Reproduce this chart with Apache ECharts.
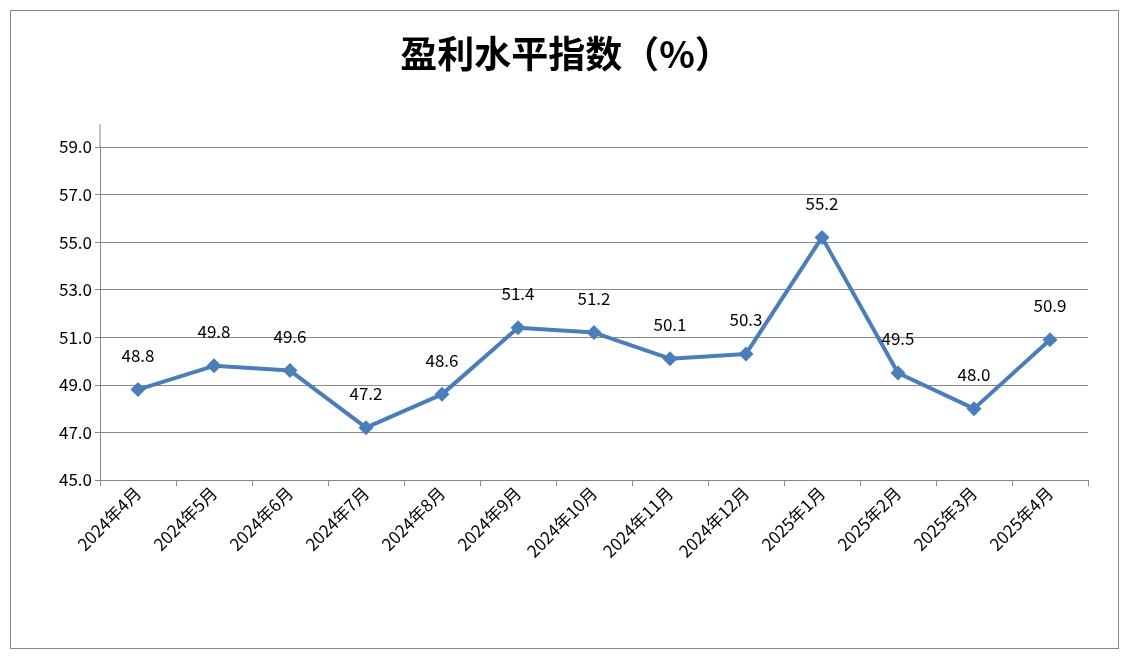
<!DOCTYPE html>
<html><head><meta charset="utf-8">
<script src="https://cdn.jsdelivr.net/npm/echarts@6/dist/echarts.min.js"></script>
<style>body{margin:0;background:#fff}#main{width:1132px;height:661px}
#frame{position:absolute;left:10px;top:10px;width:1107px;height:637px;border:1px solid #888;pointer-events:none}</style>
</head><body><div id="main"></div><div id="frame"></div>
<script>
// months shown on the x axis
const months = ["2024年4月","2024年5月","2024年6月","2024年7月","2024年8月","2024年9月","2024年10月",
  "2024年11月","2024年12月","2025年1月","2025年2月","2025年3月","2025年4月"];
// profit level index values
const profitIndex = [48.8, 49.8, 49.6, 47.2, 48.6, 51.4, 51.2, 50.1, 50.3, 55.2, 49.5, 48.0, 50.9];

const chart = echarts.init(document.getElementById("main"));
const font = "'Noto Sans CJK SC', sans-serif";
chart.setOption({
  animation: false,
  title: {
    text: "盈利水平指数（%）", left: "center", top: 30,
    textStyle: { fontSize: 37, fontWeight: "bold", color: "#000", fontFamily: font }
  },
  graphic: [{ type: "line", shape: { x1: 100, y1: 124, x2: 100, y2: 147 }, style: { stroke: "#888", lineWidth: 1 } }],
  grid: { left: 100, right: 44, top: 147, bottom: 181 },
  xAxis: {
    type: "category", data: months, boundaryGap: true,
    axisLine: { lineStyle: { color: "#888" } },
    axisTick: { show: true, length: 6, lineStyle: { color: "#888" } },
    axisLabel: { rotate: 45, color: "#000", fontSize: 17, fontFamily: font, interval: 0, margin: 10 }
  },
  yAxis: {
    type: "value", min: 45, max: 59, interval: 2,
    axisLine: { show: true, lineStyle: { color: "#888" } },
    axisTick: { show: true, length: 5, lineStyle: { color: "#888" } },
    splitLine: { lineStyle: { color: "#888" } },
    axisLabel: { color: "#000", fontSize: 17, fontFamily: font, formatter: v => v.toFixed(1) }
  },
  series: [{
    type: "line", data: profitIndex,
    symbol: "diamond", symbolSize: 15,
    lineStyle: { color: "#4a7ebb", width: 4 },
    itemStyle: { color: "#4a7ebb" },
    label: { show: true, position: "top", distance: 18, color: "#000", fontSize: 17, fontFamily: font,
      formatter: p => p.value.toFixed(1) }
  }]
});
</script></body></html>
